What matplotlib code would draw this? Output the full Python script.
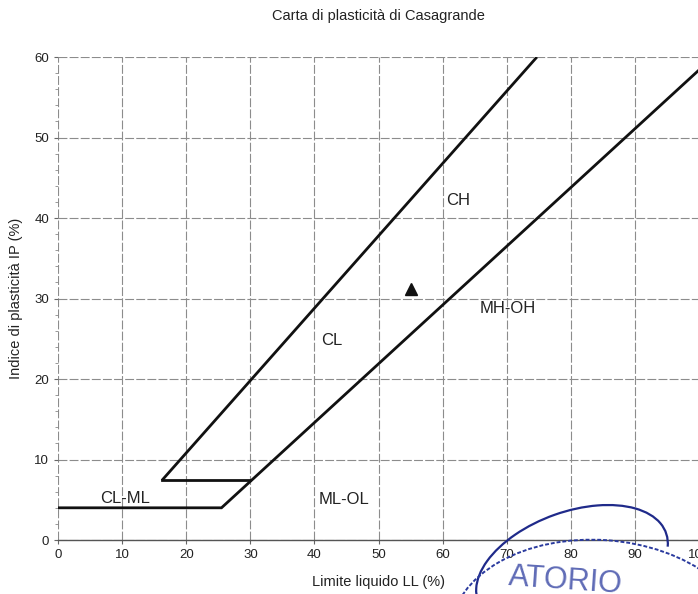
import numpy as np
import matplotlib.pyplot as plt
from matplotlib.patches import Arc, Ellipse

plt.rcParams['font.family'] = ['Liberation Sans', 'DejaVu Sans']

# U-line (upper) and A-line (lower) with the CL-ML band limits
u_ll = [16.2, 74.7]
u_ip = [7.4, 60.0]
a_ll = [0.0, 25.5, 100.0]
a_ip = [4.0, 4.0, 58.4]
band_ll = [16.2, 30.0]
band_ip = [7.4, 7.4]

# sample point
sample_ll = [55.0]
sample_ip = [31.2]

zone_names = ['CH', 'CL', 'MH-OH', 'ML-OL', 'CL-ML']
zone_ll = [60.6, 41.0, 65.8, 40.6, 6.5]
zone_ip = [42.2, 24.8, 28.8, 5.0, 5.2]

fig = plt.figure(figsize=(6.98, 5.94), dpi=100)
ax = fig.add_axes([0.0831, 0.0909, 0.9185, 0.8131])

ax.plot(u_ll, u_ip, color='#111111', lw=2.0, solid_capstyle='butt')
ax.plot(a_ll, a_ip, color='#111111', lw=2.0, solid_joinstyle='miter')
ax.plot(band_ll, band_ip, color='#111111', lw=2.0)
ax.plot(sample_ll, sample_ip, marker='^', color='#111111', ms=8, ls='none')

for name, x, y in zip(zone_names, zone_ll, zone_ip):
    ax.text(x, y, name, fontsize=12, color='#222222', va='center', ha='left')

ax.set_xlim(0, 100)
ax.set_ylim(0, 60)
ax.set_xticks(np.arange(0, 101, 10))
ax.set_yticks(np.arange(0, 61, 10))
ax.set_yticks(np.arange(0, 61, 2), minor=True)
ax.tick_params(axis='both', which='major', length=3, labelsize=9.5,
               colors='#666666', labelcolor='#222222')
ax.tick_params(axis='y', which='minor', length=2, colors='#888888')
ax.grid(True, which='major', color='#8c8c8c', lw=0.8, ls=(0, (8, 2)))
for side in ['top', 'right', 'left']:
    ax.spines[side].set_visible(False)
ax.spines['bottom'].set_color('#555555')
ax.spines['bottom'].set_linewidth(1.0)

ax.set_title('Carta di plasticità di Casagrande', fontsize=10.5,
             color='#222222', pad=27)
ax.set_xlabel('Limite liquido LL (%)', fontsize=10.5, color='#222222',
              labelpad=10)
ax.set_ylabel('Indice di plasticità IP (%)', fontsize=10.5, color='#222222',
              labelpad=8)

# laboratory stamp over the lower right corner (sizes in inches)
inch = fig.dpi_scale_trans
fig.add_artist(Arc((5.72, 0.27), 2.0, 1.1, angle=20, theta1=-8, theta2=187,
                   transform=inch, color='#1f2a8a', lw=1.6))
fig.add_artist(Ellipse((6.0, -0.46), 3.0, 2.0, angle=-4, fill=False,
                       transform=inch, ec='#2a3a9e', lw=1.4, ls=(0, (2, 1))))
fig.text(5.65, -0.06, 'ATORIO', transform=inch, fontsize=22,
         color='#2a3a9e', ha='center', va='bottom', alpha=0.75, rotation=-4)

fig.savefig('out.png', dpi=100)
